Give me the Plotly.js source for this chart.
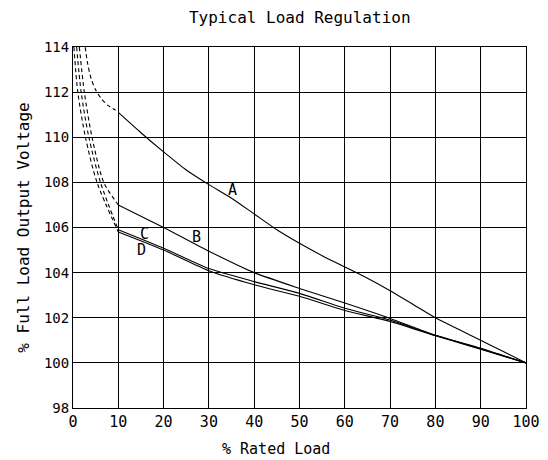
<!DOCTYPE html>
<html>
<head>
<meta charset="utf-8">
<script src="https://cdn.plot.ly/plotly-3.0.1.min.js"></script>
<style>html,body{margin:0;padding:0;background:#fff;}#chart{width:548px;height:460px;}</style>
</head>
<body>
<div id="chart"></div>
<script>
// Dashed (low-load) portions
const aDashX = [2.5, 3.2, 4.0, 5.0, 6.3, 7.8, 9.4];
const aDashY = [114.3, 113.3, 112.6, 112.1, 111.7, 111.4, 111.2];
const bDashX = [1.4, 2.5, 4.2, 6.8, 10];
const bDashY = [114, 112, 110, 108, 107.0];
const cDashX = [0.8, 1.8, 3.5, 6.06, 10];
const cDashY = [114, 112, 110, 108, 105.9];
const dDashX = [0.2, 1.06, 2.75, 5.3, 10];
const dDashY = [114, 112, 110, 108, 105.8];

// Solid portions
const loadX = [10, 20, 30, 40, 50, 60, 70, 80, 90, 100];
const aX = [10, 15, 20, 25, 30, 35, 40, 45, 50, 55, 60, 65, 70, 75, 80, 85, 90, 95, 100];
const aY = [111.1, 110.2, 109.35, 108.55, 107.9, 107.3, 106.6, 105.9, 105.3, 104.75, 104.25, 103.75, 103.2, 102.6, 102.0, 101.5, 101.0, 100.5, 100.0];
const bY = [107.0, 106.0, 104.95, 104.0, 103.3, 102.65, 101.97, 101.22, 100.65, 100.0];
const cY = [105.9, 105.08, 104.18, 103.6, 103.08, 102.42, 101.9, 101.22, 100.62, 100.0];
const dY = [105.8, 105.0, 104.08, 103.46, 102.95, 102.32, 101.84, 101.2, 100.6, 100.0];

const labels = ['A', 'B', 'C', 'D'];
const labelX = [35.2, 27.2, 15.8, 15.1];
const labelY = [107.65, 105.57, 105.7, 105.0];

const xTicks = [0, 10, 20, 30, 40, 50, 60, 70, 80, 90, 100];
const yTicks = [98, 100, 102, 104, 106, 108, 110, 112, 114];

const FONT = 'DejaVu Sans Mono, monospace';
const dashLine = {color: '#000', width: 1.1, dash: '4px,3px', shape: 'spline', smoothing: 0.8};
const solidLine = {color: '#000', width: 1.1, shape: 'spline', smoothing: 0.6};

const traces = [
  {x: aDashX, y: aDashY, mode: 'lines', line: dashLine},
  {x: bDashX, y: bDashY, mode: 'lines', line: dashLine},
  {x: cDashX, y: cDashY, mode: 'lines', line: dashLine},
  {x: dDashX, y: dDashY, mode: 'lines', line: dashLine},
  {x: aX, y: aY, mode: 'lines', line: solidLine},
  {x: loadX, y: bY, mode: 'lines', line: solidLine},
  {x: loadX, y: cY, mode: 'lines', line: solidLine},
  {x: loadX, y: dY, mode: 'lines', line: solidLine}
];

const annotations = labels.map((t, i) => ({
  x: labelX[i], y: labelY[i], text: t, showarrow: false,
  font: {family: FONT, size: 15, color: '#000'}
}));
annotations.push({
  xref: 'paper', yref: 'paper', x: 0.325, y: -0.114, yanchor: 'middle',
  text: '% Rated Load', showarrow: false,
  font: {family: FONT, size: 15, color: '#000'}
});

const layout = {
  width: 548, height: 460,
  margin: {l: 72.5, r: 21.5, t: 46.7, b: 51.7},
  paper_bgcolor: '#fff', plot_bgcolor: '#fff',
  showlegend: false,
  title: {text: 'Typical Load Regulation', x: 0.547, xanchor: 'center', y: 0.963, yanchor: 'middle',
          font: {family: FONT, size: 16, color: '#000'}},
  xaxis: {range: [0, 100], tickvals: xTicks, ticktext: xTicks.map(String),
          showgrid: true, gridcolor: '#000', gridwidth: 1, zeroline: false,
          showline: true, linecolor: '#000', linewidth: 1, mirror: true,
          ticks: '', ticklen: 0,
          tickfont: {family: FONT, size: 15, color: '#000'}},
  yaxis: {range: [98, 114], tickvals: yTicks, ticktext: yTicks.map(String),
          showgrid: true, gridcolor: '#000', gridwidth: 1, zeroline: false,
          showline: true, linecolor: '#000', linewidth: 1, mirror: true,
          ticks: '', ticklen: 0,
          tickfont: {family: FONT, size: 14, color: '#000'},
          title: {text: '% Full Load Output Voltage', standoff: 10,
                  font: {family: FONT, size: 16, color: '#000'}}},
  annotations: annotations
};

Plotly.newPlot('chart', traces, layout, {displayModeBar: false, staticPlot: true});
</script>
</body>
</html>
